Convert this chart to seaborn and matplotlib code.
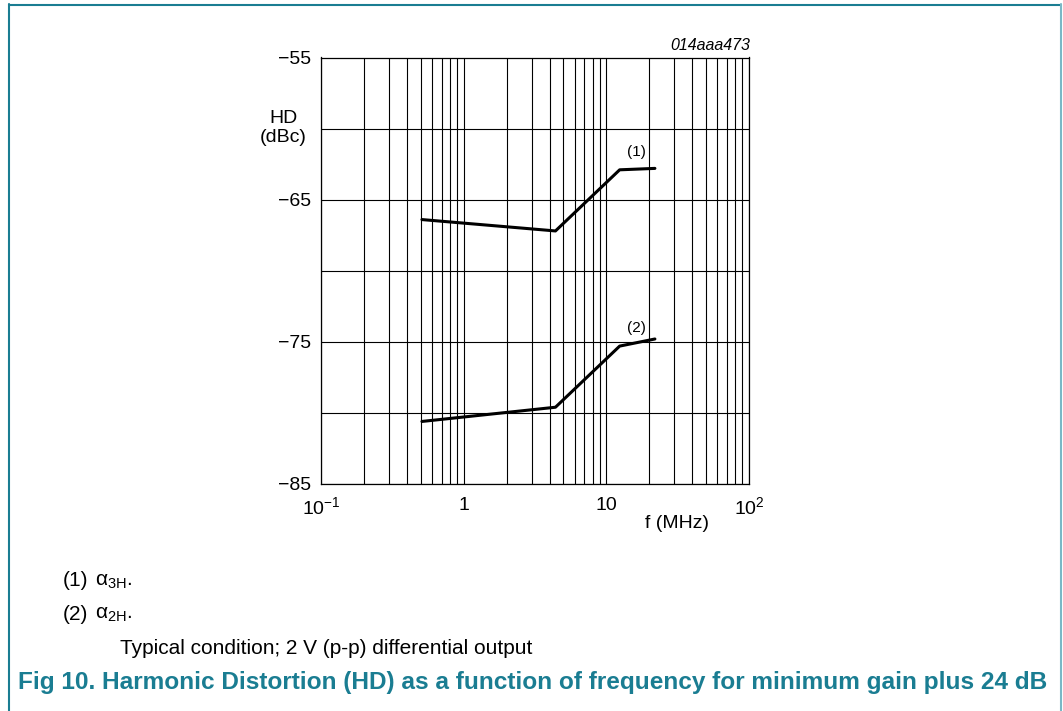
import numpy as np
import pandas as pd
import matplotlib
matplotlib.use("Agg")
import matplotlib.pyplot as plt
import seaborn as sns
from matplotlib.ticker import LogLocator, FixedLocator, NullFormatter, FixedFormatter
from matplotlib.lines import Line2D

# ---- data ----
freq_3h = [0.51, 4.4, 12.4, 21.9]
hd_3h = [-66.4, -67.2, -62.9, -62.8]
freq_2h = [0.51, 4.4, 12.4, 21.9]
hd_2h = [-80.6, -79.6, -75.3, -74.8]
curve_labels = ["(1)", "(2)"]
y_ticks = [-85, -75, -65, -55]
y_tick_labels = ["\u221285", "\u221275", "\u221265", "\u221255"]
x_tick_labels = ["10$^{\\mathregular{-1}}$", "1", "10", "10$^{\\mathregular{2}}$"]

df = pd.DataFrame({
    "f": freq_3h + freq_2h,
    "hd": hd_3h + hd_2h,
    "curve": [curve_labels[0]] * len(freq_3h) + [curve_labels[1]] * len(freq_2h),
})

sns.set_theme(style="white")
plt.rcParams["font.family"] = ["Liberation Sans", "DejaVu Sans"]
plt.rcParams["text.color"] = "black"
plt.rcParams["mathtext.fontset"] = "custom"
plt.rcParams["mathtext.rm"] = "Liberation Sans"

fig = plt.figure(figsize=(10.63, 7.11), dpi=100)
W, H = 1063, 711
ax = fig.add_axes([321 / W, 1 - 484 / H, (749 - 321) / W, (484 - 57.5) / H])

sns.lineplot(data=df, x="f", y="hd", hue="curve", palette=["black", "black"],
             linewidth=2.2, legend=False, ax=ax, sort=False, estimator=None)
ax.set_xscale("log")
ax.set_xlim(0.1, 100)
ax.set_ylim(-85, -55)

ax.xaxis.set_major_locator(FixedLocator([0.1, 1, 10, 100]))
ax.xaxis.set_major_formatter(FixedFormatter(x_tick_labels))
ax.xaxis.set_minor_locator(LogLocator(base=10, subs=np.arange(2, 10), numticks=20))
ax.xaxis.set_minor_formatter(NullFormatter())
ax.yaxis.set_major_locator(FixedLocator(y_ticks))
ax.yaxis.set_major_formatter(FixedFormatter(y_tick_labels))
ax.yaxis.set_minor_locator(FixedLocator([-80, -70, -60]))

ax.grid(True, which="both", axis="both", color="black", linewidth=0.8)
ax.tick_params(axis="both", which="both", length=0, labelsize=14, colors="black")
ax.tick_params(axis="x", pad=9)
ax.tick_params(axis="y", pad=7)
for s in ax.spines.values():
    s.set_color("black")
    s.set_linewidth(0.9)
ax.set_xlabel("")
ax.set_ylabel("")

# curve labels
ax.annotate(curve_labels[0], xy=(freq_3h[2], hd_3h[2]), xytext=(12, 8),
            textcoords="offset points", ha="center", va="bottom", fontsize=11)
ax.annotate(curve_labels[1], xy=(freq_2h[2], hd_2h[2]), xytext=(12, 8),
            textcoords="offset points", ha="center", va="bottom", fontsize=11)

# axis titles
fig.text(283 / W, 1 - 128 / H, "HD\n(dBc)", ha="center", va="center", fontsize=14,
         linespacing=1.15)
fig.text(677 / W, 1 - 524 / H, "f (MHz)", ha="center", va="center", fontsize=14)
fig.text(750 / W, 1 - 45 / H, "014aaa473", ha="right", va="center", fontsize=11.5,
         style="italic")

# footnotes
fs = 15
fig.text(63 / W, 1 - 581 / H, "(1)", ha="left", va="center", fontsize=fs)
fig.text(95 / W, 1 - 581 / H, "\u03b1$_{\\mathregular{3H}}$.", ha="left", va="center", fontsize=fs)
fig.text(63 / W, 1 - 615 / H, "(2)", ha="left", va="center", fontsize=fs)
fig.text(95 / W, 1 - 615 / H, "\u03b1$_{\\mathregular{2H}}$.", ha="left", va="center", fontsize=fs)
fig.text(120 / W, 1 - 649 / H, "Typical condition; 2 V (p-p) differential output",
         ha="left", va="center", fontsize=fs)

teal = "#1a7d92"
fig.text(18 / W, 1 - 683 / H,
         "Fig 10. Harmonic Distortion (HD) as a function of frequency for minimum gain plus 24 dB",
         ha="left", va="center", fontsize=17.6, fontweight="bold", color=teal)

# frame
fig.add_artist(Line2D([8.5 / W, 8.5 / W], [0, 1 - 4 / H], transform=fig.transFigure,
                      color=teal, linewidth=1.5))
fig.add_artist(Line2D([8.5 / W, 1061 / W], [1 - 4.5 / H, 1 - 4.5 / H], transform=fig.transFigure,
                      color=teal, linewidth=1.5))
fig.add_artist(Line2D([1061 / W, 1061 / W], [0, 1 - 4 / H], transform=fig.transFigure,
                      color="#7ab8c6", linewidth=1.5))

fig.savefig("out.png", dpi=100)
